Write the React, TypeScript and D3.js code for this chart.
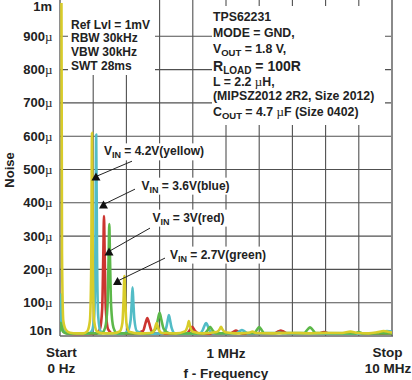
import React from "react";
import * as d3 from "d3";

type P = [number, number];

// frequency in MHz, noise in µV
const yellow42: P[] = [
  [0, 1150], [0.04, 1150], [0.06, 250], [0.1, 45], [0.18, 18], [0.3, 10], [0.5, 8], [0.7, 8],
  [0.82, 14], [0.9, 45], [0.94, 200], [0.965, 610], [0.99, 200], [1.03, 45], [1.11, 14], [1.3, 8],
  [1.6, 8], [1.8, 14], [1.88, 40], [1.915, 110], [1.94, 180], [1.965, 110], [2.0, 40], [2.08, 13],
  [2.4, 8], [2.75, 9], [2.85, 20], [2.91, 39], [2.97, 20], [3.07, 9], [3.5, 8], [3.76, 14],
  [3.85, 32], [3.88, 45], [3.91, 32], [4.0, 13], [4.3, 8], [4.72, 12], [4.82, 22], [4.85, 28],
  [4.88, 22], [4.98, 11], [5.3, 8], [5.7, 10], [5.8, 13], [5.9, 9], [6.4, 8], [7.0, 9], [7.5, 8],
  [8.0, 9], [8.5, 9], [8.75, 13], [8.95, 9], [9.3, 8], [9.55, 11], [9.75, 15], [9.9, 12], [10, 10],
];
const blue36: P[] = [
  [0, 20], [0.02, 120], [0.04, 125], [0.06, 60], [0.1, 20], [0.2, 9], [0.5, 7], [0.85, 7],
  [0.96, 15], [1.03, 60], [1.065, 250], [1.09, 605], [1.115, 250], [1.15, 60], [1.22, 14], [1.4, 7],
  [1.9, 7], [2.05, 16], [2.13, 50], [2.16, 100], [2.185, 146], [2.21, 100], [2.24, 50], [2.32, 14],
  [2.6, 7], [3.1, 8], [3.2, 25], [3.26, 55], [3.28, 63], [3.3, 55], [3.36, 25], [3.46, 8],
  [4.2, 7], [4.3, 18], [4.37, 35], [4.4, 39], [4.43, 35], [4.5, 18], [4.6, 8], [5.3, 8],
  [5.42, 15], [5.48, 18], [5.54, 15], [5.65, 8], [6.5, 8], [6.6, 10], [6.7, 8], [8.0, 7],
  [9.0, 7], [9.6, 9], [9.85, 15], [10, 13],
];
const red30: P[] = [
  [0, 15], [0.02, 80], [0.04, 85], [0.07, 35], [0.12, 12], [0.25, 7], [0.6, 6], [1.1, 7],
  [1.2, 20], [1.27, 80], [1.305, 250], [1.325, 360], [1.345, 250], [1.38, 80], [1.45, 20], [1.6, 7],
  [2.2, 7], [2.5, 15], [2.58, 40], [2.63, 54], [2.68, 40], [2.76, 15], [2.9, 7], [3.8, 7],
  [3.9, 16], [3.98, 28], [4.06, 16], [4.2, 7], [5.1, 7], [5.22, 12], [5.3, 16], [5.38, 12],
  [5.5, 7], [6.45, 8], [6.58, 14], [6.65, 16], [6.72, 14], [6.85, 8], [7.8, 8], [7.95, 12],
  [8.1, 8], [9.0, 7], [10, 8],
];
const green27: P[] = [
  [0, 12], [0.02, 40], [0.05, 30], [0.1, 12], [0.2, 8], [0.5, 8], [1.25, 8], [1.36, 25],
  [1.43, 90], [1.465, 240], [1.485, 336], [1.505, 240], [1.54, 90], [1.61, 25], [1.72, 8],
  [2.7, 8], [2.87, 20], [2.95, 50], [3.0, 70], [3.05, 50], [3.13, 20], [3.3, 8], [4.35, 8],
  [4.45, 18], [4.52, 28], [4.59, 18], [4.7, 8], [5.85, 9], [5.94, 20], [6.0, 27], [6.06, 20],
  [6.15, 9], [7.35, 9], [7.46, 20], [7.53, 26], [7.6, 20], [7.7, 9], [8.9, 8], [9.0, 12],
  [9.1, 8], [10, 8],
];

const seriesNames = ["red", "blue", "green", "yellow"];
const seriesData = [red30, blue36, green27, yellow42];
const seriesColors = ["#cc3530", "#52bcc6", "#5cb84a", "#d8cc2a"];

const yTickValues = [0, 100, 200, 300, 400, 500, 600, 700, 800, 900, 1000];
const yTickNums = ["10n", "100", "200", "300", "400", "500", "600", "700", "800", "900", "1m"];
const xGridValues = [1, 2, 3, 4, 5, 6, 7, 8, 9];

// annotations: label (V_IN value + colour), text anchor, line end, arrow tip (MHz, µV)
const annVin = ["4.2V(yellow)", "3.6V(blue)", "3V(red)", "2.7V(green)"];
const annText: P[] = [[1.325, 553], [2.455, 450], [2.786, 354], [3.313, 243]];
const annLineEnd: P[] = [[2.169, 525], [2.259, 441], [2.711, 324], [3.163, 234]];
const annTip: P[] = [[1.084, 479], [1.31, 395], [1.476, 254], [1.732, 165]];
const annWidth = [100, 90, 76, 98];

const refLines = ["Ref Lvl = 1mV", "RBW 30kHz", "VBW 30kHz", "SWT 28ms"];

const FONT = "'Liberation Sans', Arial, Helvetica, sans-serif";
const MU = "'Liberation Serif', 'DejaVu Serif', serif";

export default function App() {
  const W = 412, H = 380;
  const L = 60, R = 392, T = 3, B = 336;
  const x = d3.scaleLinear().domain([0, 10]).range([L, R]);
  const y = d3.scaleLinear().domain([0, 1000]).range([B, T]);
  const line = d3
    .line<P>()
    .x((d) => x(d[0]))
    .y((d) => y(d[1]))
    .curve(d3.curveMonotoneX);

  const grid = "#505050";

  return (
    <svg
      width={W}
      height={H}
      viewBox={`0 0 ${W} ${H}`}
      style={{ position: "absolute", left: 0, top: 0, background: "#fff" }}
      fontFamily={FONT}
      fontWeight="bold"
    >
      <defs>
        <clipPath id="plot">
          <rect x={L} y={T} width={R - L} height={B - T + 1} />
        </clipPath>
      </defs>
      <rect x={0} y={0} width={W} height={H} fill="#fff" />
      {/* grid */}
      {xGridValues.map((f) => (
        <line key={"vx" + f} x1={x(f)} x2={x(f)} y1={0} y2={B} stroke={grid} strokeWidth={1.1} />
      ))}
      {yTickValues.slice(1, -1).map((v) => (
        <line key={"hy" + v} x1={L} x2={R} y1={y(v)} y2={y(v)} stroke={grid} strokeWidth={1.1} />
      ))}
      <line x1={R} x2={R} y1={0} y2={B} stroke="#8a8a8a" strokeWidth={2} />
      <line x1={L} x2={L} y1={0} y2={B} stroke="#444" strokeWidth={1.2} />
      <line x1={L} x2={R + 1} y1={B} y2={B} stroke="#666" strokeWidth={1.5} />

      {/* traces */}
      <g clipPath="url(#plot)">
        {seriesData.map((d, i) => (
          <path
            key={seriesNames[i]}
            d={line(d) || ""}
            fill="none"
            stroke={seriesColors[i]}
            strokeWidth={2.6}
            strokeLinejoin="round"
          />
        ))}
      </g>

      {/* info boxes */}
      <rect x={68} y={0} width={87} height={75} fill="#fff" />
      <g fontSize={12} fill="#222">
        {refLines.map((t, i) => (
          <text key={t} x={71} y={28.5 + i * 13.8}>
            {t}
          </text>
        ))}
      </g>
      <rect x={212} y={6} width={173} height={119} fill="#fff" />
      <g fontSize={12.3} fill="#222">
        <text x={213} y={21}>TPS62231</text>
        <text x={213} y={36.5}>MODE = GND,</text>
        <text x={213} y={52.5}>
          V<tspan fontSize={9.5} dy={3}>OUT</tspan>
          <tspan dy={-3}> = 1.8 V,</tspan>
        </text>
        <text x={213} y={71} fontSize={14}>
          R<tspan fontSize={10} dy={3}>LOAD</tspan>
          <tspan dy={-3}> = 100R</tspan>
        </text>
        <text x={213} y={86}>
          L = 2.2 <tspan fontFamily={MU} fontWeight="normal" fontSize={13}>µ</tspan>H,
        </text>
        <text x={213} y={100}>(MIPSZ2012 2R2, Size 2012)</text>
        <text x={213} y={116}>
          C<tspan fontSize={9.5} dy={3}>OUT</tspan>
          <tspan dy={-3}> = 4.7 </tspan>
          <tspan fontFamily={MU} fontWeight="normal" fontSize={13}>µ</tspan>F (Size 0402)
        </text>
      </g>

      {/* annotations */}
      {annVin.map((t, i) => {
        const tx = x(annText[i][0]);
        const ty = y(annText[i][1]);
        const lx = x(annLineEnd[i][0]);
        const ly = y(annLineEnd[i][1]);
        const px = x(annTip[i][0]);
        const py = y(annTip[i][1]);
        return (
          <g key={t}>
            <line x1={px} y1={py} x2={lx} y2={ly} stroke="#222" strokeWidth={1} />
            <path
              d={`M${px - 4.5},${py + 4} L${px},${py - 4} L${px + 4.5},${py + 4} Z`}
              fill="#111"
            />
            <rect x={tx - 1.5} y={ty - 8.5} width={annWidth[i]} height={17} fill="#fff" />
            <text x={tx} y={ty + 3.5} fontSize={12} fill="#222">
              V<tspan fontSize={9} dy={3}>IN</tspan>
              <tspan dy={-3}> = {t}</tspan>
            </text>
          </g>
        );
      })}

      {/* y tick labels */}
      <g fontSize={13} fill="#222" textAnchor="end">
        {yTickValues.map((v, i) => {
          let yy = y(v) + 4.5;
          if (i === yTickValues.length - 1) yy = 10.5;
          if (i === 0) yy = 335;
          const lab = yTickNums[i];
          const isMu = i > 0 && i < yTickValues.length - 1;
          return (
            <text key={v} x={isMu ? 52.5 : 52} y={yy}>
              {lab}
              {isMu ? (
                <tspan fontFamily={MU} fontWeight="normal" fontSize={13}>
                  µ
                </tspan>
              ) : null}
            </text>
          );
        })}
      </g>
      <text
        transform="translate(14,170) rotate(-90)"
        textAnchor="middle"
        fontSize={13}
        fill="#222"
      >
        Noise
      </text>

      {/* x labels */}
      <g fontSize={13.5} fill="#222" textAnchor="middle">
        <text x={61.5} y={356.5}>Start</text>
        <text x={61.5} y={373}>0 Hz</text>
        <text x={x(5)} y={357.5}>1 MHz</text>
        <text x={x(5)} y={377.5}>f - Frequency</text>
        <text x={387.5} y={356.5}>Stop</text>
        <text x={388} y={372.5}>10 MHz</text>
      </g>
    </svg>
  );
}
